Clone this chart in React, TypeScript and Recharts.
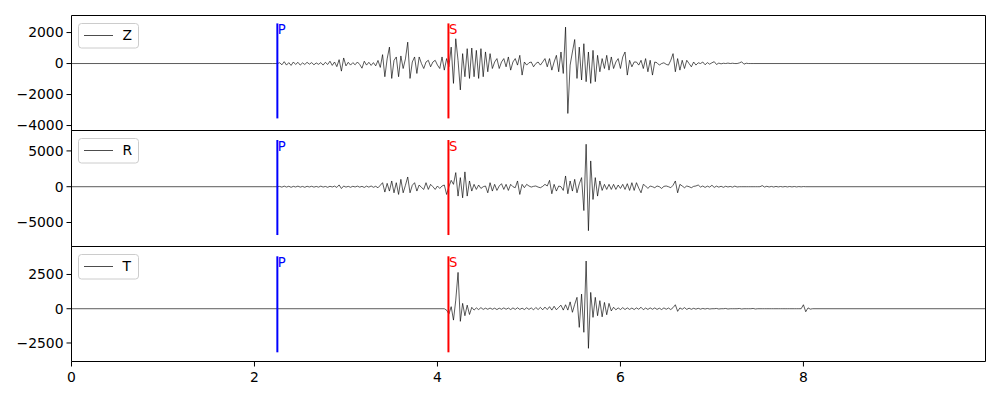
import { useMemo } from 'react';
import { LineChart, Line, XAxis, YAxis, ReferenceLine, ReferenceArea, Legend } from 'recharts';

// sampling of the traces (seconds)
const dt = 0.025;
const tEnd = 9.99;
const pTime = 2.25;
const sTime = 4.12;
const xTicks = [0, 2, 4, 6, 8];

// Z component, first sample at zStart
const zStart = 2.2;
const zAmp = [
  0, 0, 0, 50, -80, 120, -100, 60, -120, 100, -60, 80, -100, 40, -60, 80, -40, 60, -80, 40,
  -50, 60, -100, 80, -60, 150, -120, 100, -200, 250, -490, 360, -150, 80, -100, 60, -80, 100, -60, -300,
  150, -100, 80, -120, 60, -150, 200, -250, 575, -850, 300, 1060, -960, 200, 425, -850, 490, -320, 300, 1380,
  -960, 100, 425, -640, 425, 0, -320, 100, 210, -210, 100, 210, -100, -320, 425, -425, 320, -200, 1060, -1280,
  1600, 200, -1700, 640, -850, 960, -960, 1000, -850, 850, -960, 960, -850, 750, -530, 640, -320, 100, 320, -320,
  100, 320, -210, 425, -425, 100, 320, -100, 530, -745, 100, -100, 50, 100, -210, 0, 100, -100, 100, 320,
  -210, 320, -425, 100, 530, -530, 745, -640, 2350, -3220, -100, 745, 1550, -960, 1060, -1060, 1280, -1170, 745, -1280,
  850, -1170, 530, -530, 320, -320, 530, -425, 425, -320, 100, 320, -320, 425, 745, -745, 210, -210, 100, 100,
  -100, 210, -320, 320, -530, 210, -745, 100, 50, -100, 0, 50, -50, -100, 210, 640, -530, 320, -425, 210,
  -320, 210, 0, -210, 100, -100, 50, 0, 100, -80, 60, -40, 50, 120, -60, 30, -20, 20, 0, 30,
  0, 20, 0, 0, 40, 110, -40, 20, 0, 0, 0,
];

// R component
const rStart = 2.2;
const rAmp = [
  0, 0, 0, 40, -60, 80, -50, 60, -80, 50, -40, 80, -60, 40, -80, 60, -40, 60, -60, 40,
  -60, 80, -50, 40, -80, 60, -40, 80, -100, 250, -250, 100, -60, 50, -80, 60, -40, 80, -60, 50,
  -100, 80, -60, 100, -80, 60, -150, 200, 560, -750, 470, -610, 800, -850, 560, -1080, 1030, -850, 200, 1360,
  -850, 200, 560, -610, 240, -100, -380, 560, -380, 330, 0, -380, 100, -240, 100, 240, -1080, 0, 890, 330,
  1970, -1310, 1270, -1550, 2070, -1310, 800, -610, 330, -380, 240, -240, 0, 100, -850, 560, -610, 330, -520, 100,
  420, -380, 330, -520, 330, 0, -140, 800, -1080, 330, -140, 330, 100, -50, 50, 100, -50, -140, 50, 330,
  100, 890, -985, 330, -610, 100, 0, -520, 1500, -985, 800, -610, 1030, -850, 400, 1270, -3330, 5930, -6140, 3600,
  -1780, 1270, -1310, 800, -520, 330, -380, 330, -380, 330, -380, 240, -240, 330, -380, 420, -520, 560, -520, 560,
  -200, -850, 330, 100, -240, 100, 0, -140, 100, 0, -240, 50, 100, 0, -140, 200, 800, -850, 330, 100,
  -140, 100, 0, -140, 50, 100, 240, -50, 100, -100, 80, -60, 200, -100, 80, -60, 60, -80, 60, -40,
  40, -60, 80, -40, 0, 0, 0, 0, 0, 0, 0, 0, 0, 0, 150, -50, 60, -40, 40, -40,
  40, -30, 30, -30, 30, -30, 30, -30, 30, -30, 20, -20, 20, 0,
];

// T component
const tStart = 4.05;
const tAmp = [
  0, 0, -100, -390, 150, -830, 630, 2650, -920, 390, -510, 260, -420, 100, -100, 60, -60, 80, -50, 40,
  -40, 50, -40, 40, -60, 40, -40, 60, -40, 50, -60, 60, -50, 70, -50, 40, -60, 70, -50, 60,
  -80, 90, -60, 100, -80, 120, -60, 150, -100, 180, -80, 100, 260, -100, 290, -100, 500, -260, 320, 830,
  -1360, 1070, -1720, 3480, -2890, 1190, -630, 830, -510, 590, -590, 460, -440, 390, -160, 110, -80, 60, -60, 80,
  -60, 60, -50, 50, -60, 60, -40, 110, -70, 50, -50, 60, -40, 60, -50, 40, -60, 60, -40, 50,
  -60, 80, 290, -190, 60, -40, 80, -50, 40, -40, 30, -30, 30, -30, 20, -20, 20, -20, 0, 0,
  20, -20, 0, 0, 20, -20, 0, 0, 0, 0, 20, -20, 0, 0, 0, 0, 20, -20, 0, 0,
  0, 0, 0, 0, 0, 0, 0, 0, 0, 0, 0, 0, 0, 0, 0, 0, 0, 0, 290, -220,
  60, -30, 0,
];

const zTicks = [-4000, -2000, 0, 2000];
const rTicks = [-5000, 0, 5000];
const tTicks = [-2500, 0, 2500];

const fmt = (v: number) => (v < 0 ? '\u2212' + Math.abs(v) : String(v));
const font = 'DejaVu Sans';

function PhaseLabel(props: any) {
  const vb = props.viewBox || { x: 0, y: 0 };
  return (
    <text x={vb.x + 0.5} y={vb.y + 10.8} fill={props.tint} fontSize={13.2} fontFamily={font}>
      {props.phase}
    </text>
  );
}

function LegendBox(props: any) {
  const label = props.payload?.[0]?.value ?? props.fallback;
  return (
    <svg width={61} height={26} style={{ display: 'block' }}>
      <rect x={0.5} y={0.5} width={60} height={24.5} rx={3} fill="#fff" fillOpacity={0.8} stroke="#cccccc" />
      <line x1={6} x2={35} y1={12.5} y2={12.5} stroke="#000" strokeWidth={0.7} />
      <text x={44.5} y={16.6} fontSize={13.9} fontFamily={font} fill="#000">{label}</text>
    </svg>
  );
}

interface PanelProps {
  name: string;
  start: number;
  amp: number[];
  domain: [number, number];
  ticks: number[];
  marks: [number, number];
  top: number;
  bottom: number;
  showX?: boolean;
}

function Panel({ name, start, amp, domain, ticks, marks, top, bottom, showX }: PanelProps) {
  const rows = useMemo(
    () => [
      { t: 0, v: 0 },
      ...amp.map((v, i) => ({ t: +(start + i * dt).toFixed(3), v })),
      { t: tEnd, v: 0 },
    ],
    [amp, start]
  );
  const tickStyle = { fill: '#000', fontSize: 13.9, fontFamily: font };

  return (
    <div style={{ position: 'absolute', left: 0, top: 0 }}>
      <LineChart
        width={1000}
        height={400}
        data={rows}
        margin={{ top, right: 14.5, bottom: showX ? bottom - 30 : bottom, left: 11.5 }}
      >
        <XAxis
          type="number"
          dataKey="t"
          domain={[0, tEnd]}
          ticks={xTicks}
          allowDataOverflow
          hide={!showX}
          height={30}
          axisLine={false}
          tickLine={{ stroke: '#000' }}
          tickSize={5}
          tickMargin={6}
          tick={tickStyle}
        />
        <YAxis
          type="number"
          domain={domain}
          ticks={ticks}
          interval={0}
          allowDataOverflow
          width={60}
          axisLine={false}
          tickLine={{ stroke: '#000' }}
          tickSize={5}
          tickMargin={3}
          tick={tickStyle}
          tickFormatter={fmt}
        />
        <Legend
          layout="vertical"
          align="center"
          verticalAlign="middle"
          wrapperStyle={{ left: 78, top: top + 7, width: 61, height: 26 }}
          content={(p: any) => <LegendBox {...p} fallback={name} />}
        />
        <Line
          type="linear"
          dataKey="v"
          name={name}
          stroke="#000"
          strokeWidth={0.65}
          dot={false}
          activeDot={false}
          isAnimationActive={false}
        />
        <ReferenceLine
          segment={[{ x: pTime, y: marks[0] }, { x: pTime, y: marks[1] }]}
          stroke="#0000ff"
          strokeWidth={2}
          label={<PhaseLabel phase="P" tint="#0000ff" />}
        />
        <ReferenceLine
          segment={[{ x: sTime, y: marks[0] }, { x: sTime, y: marks[1] }]}
          stroke="#ff0000"
          strokeWidth={2}
          label={<PhaseLabel phase="S" tint="#ff0000" />}
        />
        <ReferenceArea
          x1={0}
          x2={tEnd}
          y1={domain[0]}
          y2={domain[1]}
          fill="none"
          fillOpacity={0}
          stroke="#000"
          strokeWidth={1}
          ifOverflow="visible"
        />
      </LineChart>
    </div>
  );
}

export default function App() {
  return (
    <div style={{ position: 'absolute', left: 0, top: 0, width: 1000, height: 400, background: '#fff' }}>
      <Panel name="Z" start={zStart} amp={zAmp} domain={[-4320, 3100]} ticks={zTicks} marks={[-3540, 2590]} top={15.5} bottom={269.5} />
      <Panel name="R" start={rStart} amp={rAmp} domain={[-8350, 7850]} ticks={rTicks} marks={[-6750, 6520]} top={130.5} bottom={153.5} />
      <Panel name="T" start={tStart} amp={tAmp} domain={[-3850, 4540]} ticks={tTicks} marks={[-3180, 3825]} top={246.5} bottom={38.5} showX />
    </div>
  );
}
